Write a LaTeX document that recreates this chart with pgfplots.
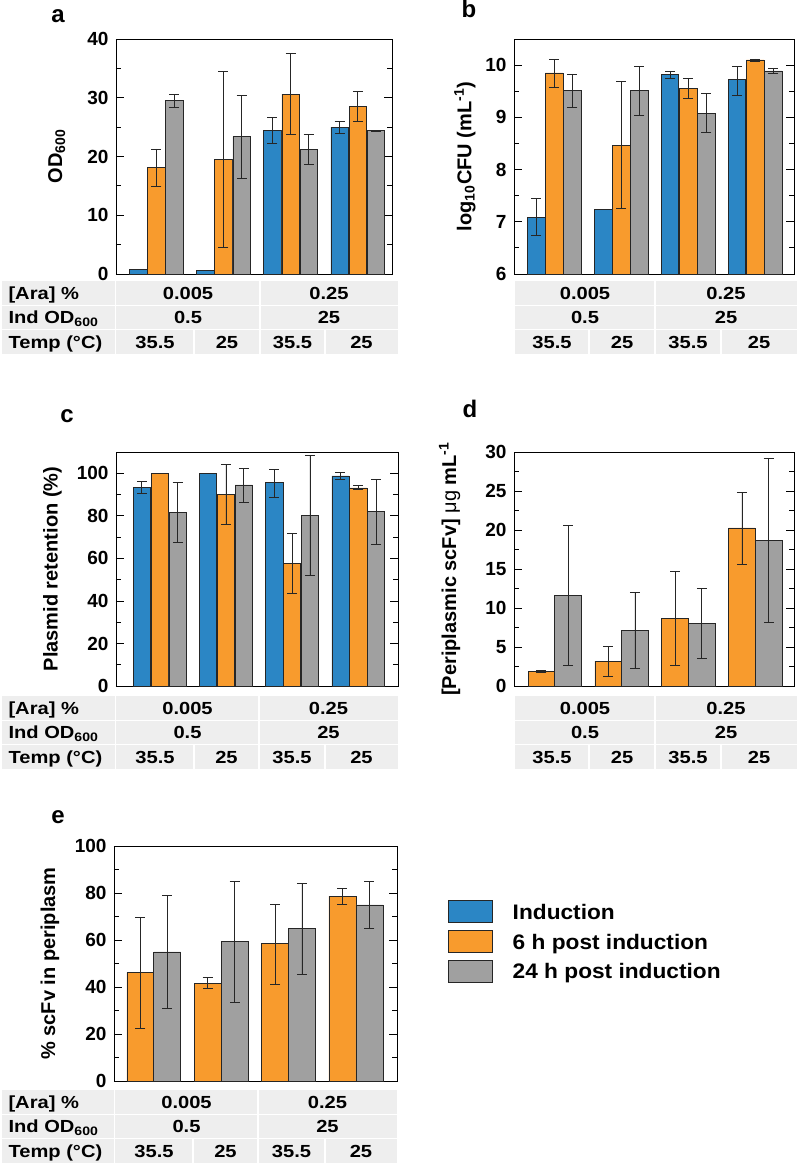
\documentclass[border=0pt]{standalone}
\usepackage{fontspec}
\setmainfont{Liberation Sans}
\newfontfamily\tabfont[FakeStretch=1.15]{Liberation Sans}
\newfontfamily\legfont[FakeStretch=1.08]{Liberation Sans}
\usepackage{pgfplots}
\pgfplotsset{compat=1.18}

\definecolor{cblue}{RGB}{43,134,197}
\definecolor{corange}{RGB}{248,155,45}
\definecolor{cgray}{RGB}{160,160,160}
\definecolor{tabbg}{RGB}{238,238,238}

\newcommand{\fs}[1]{\fontsize{#1}{#1}\selectfont\bfseries}
\def\rh{24.3}

% condition table, data part: #1 left, #2 s1, #3 mid, #4 s3, #5 right, #6 top
\newcommand{\tabdata}[6]{%
  \fill[tabbg] (#1pt,-#6pt) rectangle (#5pt,{-(#6+3*\rh)*1pt});
  \draw[white,line width=1.5pt] (#1pt,{-(#6+\rh)*1pt}) -- (#5pt,{-(#6+\rh)*1pt});
  \draw[white,line width=1.5pt] (#1pt,{-(#6+2*\rh)*1pt}) -- (#5pt,{-(#6+2*\rh)*1pt});
  \draw[white,line width=1.5pt] (#3pt,-#6pt) -- (#3pt,{-(#6+3*\rh)*1pt});
  \draw[white,line width=1.5pt] (#2pt,{-(#6+2*\rh)*1pt}) -- (#2pt,{-(#6+3*\rh)*1pt});
  \draw[white,line width=1.5pt] (#4pt,{-(#6+2*\rh)*1pt}) -- (#4pt,{-(#6+3*\rh)*1pt});
  \path[font=\tabfont\fs{17.5}]
    ({(#1+#3)/2*1pt},{-(#6+0.5*\rh+6.3)*1pt}) node[anchor=base] {0.005}
    ({(#3+#5)/2*1pt},{-(#6+0.5*\rh+6.3)*1pt}) node[anchor=base] {0.25}
    ({(#1+#3)/2*1pt},{-(#6+1.5*\rh+6.3)*1pt}) node[anchor=base] {0.5}
    ({(#3+#5)/2*1pt},{-(#6+1.5*\rh+6.3)*1pt}) node[anchor=base] {25}
    ({(#1+#2)/2*1pt},{-(#6+2.5*\rh+6.3)*1pt}) node[anchor=base] {35.5}
    ({(#2+#3)/2*1pt},{-(#6+2.5*\rh+6.3)*1pt}) node[anchor=base] {25}
    ({(#3+#4)/2*1pt},{-(#6+2.5*\rh+6.3)*1pt}) node[anchor=base] {35.5}
    ({(#4+#5)/2*1pt},{-(#6+2.5*\rh+6.3)*1pt}) node[anchor=base] {25};
}
% label column: #1 left, #2 right, #3 top
\newcommand{\tablab}[3]{%
  \fill[tabbg] (#1pt,-#3pt) rectangle (#2pt,{-(#3+3*\rh)*1pt});
  \draw[white,line width=1.5pt] (#1pt,{-(#3+\rh)*1pt}) -- (#2pt,{-(#3+\rh)*1pt});
  \draw[white,line width=1.5pt] (#1pt,{-(#3+2*\rh)*1pt}) -- (#2pt,{-(#3+2*\rh)*1pt});
  \draw[white,line width=1.5pt] (#2pt,-#3pt) -- (#2pt,{-(#3+3*\rh)*1pt});
  \path[font=\tabfont\fs{17.5}]
    ({(#1+3)*1pt},{-(#3+0.5*\rh+6.3)*1pt}) node[anchor=base west] {[Ara] \%}
    ({(#1+3)*1pt},{-(#3+1.5*\rh+6.3)*1pt}) node[anchor=base west] {Ind OD\textsubscript{600}}
    ({(#1+3)*1pt},{-(#3+2.5*\rh+6.3)*1pt}) node[anchor=base west] {Temp (°C)};
}

\pgfplotsset{
  panel/.style={
    scale only axis, ybar,
    axis line style={line width=0.9pt},
    xtick=\empty,
    ytick pos=both, yticklabel pos=left,
    tick align=inside,
    major tick length=8pt, minor tick length=5pt,
    minor y tick num=1,
    tick style={line width=0.8pt, black},
    yticklabel style={font=\fs{19}, xshift=-4pt},
    /pgf/number format/assume math mode=true,
    ylabel style={font=\fs{20}, anchor=center},
  },
  bstyle/.style={draw=black!85, line width=0.6pt, fill=#1,
    error bars/y dir=both, error bars/y explicit,
    error bars/error bar style={line width=0.7pt, black!85},
    error bars/error mark options={rotate=90, mark size=5pt, line width=0.7pt, black!85}},
  legbox/.style={legend image code/.code={%
    \draw[##1, draw=black!85, line width=0.6pt] (0pt,-10pt) rectangle (44pt,12pt);}},
}

\begin{document}
\begin{tikzpicture}
\path[use as bounding box] (0pt,0pt) rectangle (797pt,-1163pt);

% ---------- a ----------
\begin{axis}[panel, at={(116pt,-274pt)}, anchor=south west,
  width=276pt, height=235pt, xmin=0.40, xmax=4.51, ymin=0, ymax=40,
  ytick={0,10,...,40}, bar width=0.26,
  ylabel={OD\textsubscript{600}},
  ylabel style={at={(axis description cs:-0.215,0.5)}}]
\addplot[bstyle=cblue, bar shift=-0.27] coordinates {
  (1,0.8) +- (0,0.05) (2,0.6) +- (0,0.05)
  (3,24.4) += (0,2.3) -= (0,2.2) (4,25.0) += (0,1.0) -= (0,1.1)};
\addplot[bstyle=corange, bar shift=0] coordinates {
  (1,18.1) +- (0,3.2) (2,19.5) +- (0,15.0)
  (3,30.6) += (0,7.0) -= (0,6.9) (4,28.5) += (0,2.6) -= (0,2.5)};
\addplot[bstyle=cgray, bar shift=0.27] coordinates {
  (1,29.6) += (0,1.0) -= (0,1.2) (2,23.4) += (0,7.0) -= (0,7.1)
  (3,21.25) += (0,2.55) -= (0,2.5) (4,24.4) +- (0,0.1)};
\end{axis}

% ---------- b ----------
\begin{axis}[panel, at={(514pt,-274pt)}, anchor=south west,
  width=280pt, height=235pt, xmin=0.40, xmax=4.58, ymin=6, ymax=10.5,
  ytick={6,7,...,10}, bar width=0.26,
  ylabel={log\textsubscript{10}CFU (mL\textsuperscript{-1})},
  ylabel style={at={(axis description cs:-0.175,0.5)}}]
\addplot[bstyle=cblue, bar shift=-0.27] coordinates {
  (1,7.09) +- (0,0.35) (2,7.24) +- (0,0)
  (3,9.82) +- (0,0.065) (4,9.72) += (0,0.26) -= (0,0.29)};
\addplot[bstyle=corange, bar shift=0] coordinates {
  (1,9.85) += (0,0.26) -= (0,0.27) (2,8.47) +- (0,1.22)
  (3,9.56) +- (0,0.19) (4,10.10) +- (0,0.02)};
\addplot[bstyle=cgray, bar shift=0.27] coordinates {
  (1,9.51) +- (0,0.32) (2,9.51) += (0,0.46) -= (0,0.48)
  (3,9.08) += (0,0.38) -= (0,0.37) (4,9.89) +- (0,0.055)};
\end{axis}

% ---------- c ----------
\begin{axis}[panel, at={(116pt,-686pt)}, anchor=south west,
  width=282pt, height=234pt, xmin=0.34, xmax=4.60, ymin=0, ymax=110,
  ytick={0,20,...,100}, bar width=0.26,
  ylabel={Plasmid retention (\%)},
  ylabel style={at={(axis description cs:-0.225,0.5)}}]
\addplot[bstyle=cblue, bar shift=-0.27] coordinates {
  (1,93.3) += (0,2.8) -= (0,2.7) (2,100) +- (0,0)
  (3,95.6) += (0,6.4) -= (0,6.7) (4,98.75) += (0,1.85) -= (0,1.55)};
\addplot[bstyle=corange, bar shift=0] coordinates {
  (1,100) +- (0,0) (2,90.1) += (0,14.1) -= (0,14.3)
  (3,57.5) += (0,14.2) -= (0,13.9) (4,93.1) += (0,1.1) -= (0,0.8)};
\addplot[bstyle=cgray, bar shift=0.27] coordinates {
  (1,81.6) += (0,14.1) -= (0,13.9) (2,94.5) += (0,7.8) -= (0,8.1)
  (3,80.2) += (0,28.1) -= (0,28.2) (4,81.9) += (0,15.1) -= (0,15.3)};
\end{axis}

% ---------- d ----------
\begin{axis}[panel, at={(514pt,-686pt)}, anchor=south west,
  width=280pt, height=234pt, xmin=0.39, xmax=4.58, ymin=0, ymax=30,
  ytick={0,5,...,30}, bar width=0.40,
  ylabel={[Periplasmic scFv] {\mdseries μg} mL\textsuperscript{-1}},
  ylabel style={at={(axis description cs:-0.23,0.5)}}]
\addplot[bstyle=corange, bar shift=-0.2] coordinates {
  (1,1.9) +- (0,0.15) (2,3.2) +- (0,1.9)
  (3,8.66) +- (0,6.0) (4,20.27) += (0,4.6) -= (0,4.7)};
\addplot[bstyle=cgray, bar shift=0.2] coordinates {
  (1,11.6) +- (0,9.0) (2,7.1) +- (0,4.9)
  (3,8.0) +- (0,4.5) (4,18.7) +- (0,10.5)};
\end{axis}

% ---------- e ----------
\begin{axis}[panel, at={(114pt,-1081pt)}, anchor=south west,
  width=283pt, height=235pt, xmin=0.41, xmax=4.61, ymin=0, ymax=100,
  ytick={0,20,...,100}, bar width=0.40,
  ylabel={\% scFv in periplasm},
  ylabel style={at={(axis description cs:-0.226,0.5)}},
  legend style={at={(1.18,0.77)}, anchor=north west, draw=none, fill=none,
    inner sep=0pt, font=\legfont\fs{21}, row sep=7pt,
    /tikz/every odd column/.append style={column sep=18pt}},
  legend cell align=left]
\addlegendimage{legbox, fill=cblue}
\addlegendentry{Induction}
\addplot[bstyle=corange, bar shift=-0.2, legbox] coordinates {
  (1,46.2) += (0,23.4) -= (0,23.6) (2,41.7) += (0,2.4) -= (0,2.1)
  (3,58.4) += (0,16.9) -= (0,17.1) (4,78.7) +- (0,3.4)};
\addlegendentry{6 h post induction}
\addplot[bstyle=cgray, bar shift=0.2, legbox] coordinates {
  (1,54.9) += (0,24.1) -= (0,24.1) (2,59.4) += (0,25.6) -= (0,25.8)
  (3,64.8) += (0,19.3) -= (0,19.3) (4,74.9) += (0,10.1) -= (0,10.1)};
\addlegendentry{24 h post induction}
\end{axis}

% ---------- condition tables ----------
\tablab{2}{116}{281}
\tabdata{116}{194}{260}{325}{398}{281}
\tabdata{515}{589}{655}{721}{797}{281}
\tablab{2}{116}{696}
\tabdata{116}{194}{259}{325}{398}{696}
\tabdata{515}{589}{655}{721}{797}{696}
\tablab{2}{115}{1090}
\tabdata{115}{193}{258}{325}{397}{1090}

% ---------- panel letters ----------
\path[font=\fs{24}]
  (58pt,-22pt) node[anchor=base] {a}
  (469pt,-17pt) node[anchor=base] {b}
  (67pt,-422pt) node[anchor=base] {c}
  (470pt,-417pt) node[anchor=base] {d}
  (58pt,-823pt) node[anchor=base] {e};
\end{tikzpicture}
\end{document}
